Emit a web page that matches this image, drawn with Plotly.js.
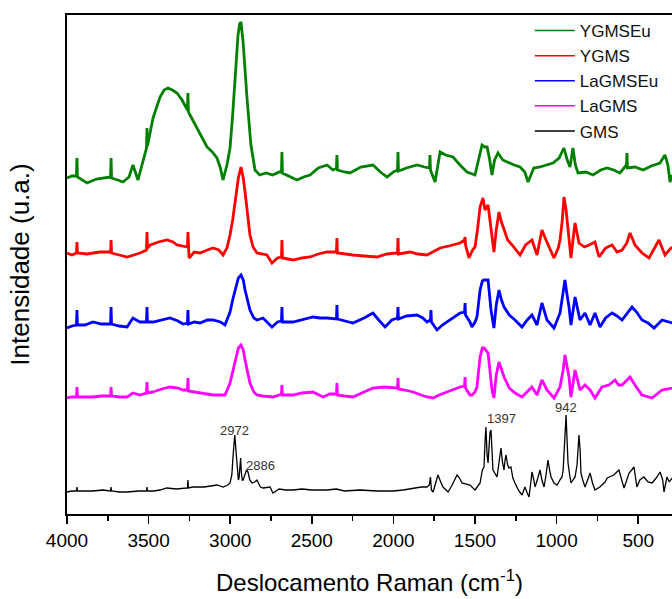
<!DOCTYPE html>
<html>
<head>
<meta charset="utf-8">
<script src="https://cdn.plot.ly/plotly-3.0.1.min.js"></script>
<style>html,body{margin:0;padding:0;background:#fff;}#chart{width:672px;height:599px;}</style>
</head>
<body>
<div id="chart"></div>
<script>
// Raman spectra (wavenumber in cm-1, intensity in arbitrary offset units)
const seriesNames = ["YGMSEu", "YGMS", "LaGMSEu", "LaGMS", "GMS"];
const seriesColors = ["#008000", "#ff0000", "#0000ff", "#ff00ff", "#000000"];

const wnYGMSEu = [4000,3970,3942,3939,3936,3877,3820,3780,3733,3730,3727,3690,3657,3620,3596,3565,3540,3513,3510,3507,3473,3430,3405,3381,3355,3326,3295,3262,3259,3256,3230,3203,3170,3142,3110,3081,3060,3044,3020,3001,2985,2970,2952,2942,2934,2921,2910,2897,2873,2848,2820,2780,2740,2700,2686,2683,2680,2640,2591,2550,2511,2460,2407,2370,2349,2346,2343,2300,2266,2200,2125,2080,2039,2000,1975,1972,1969,1920,1855,1810,1779,1776,1773,1745,1725,1714,1680,1635,1592,1549,1500,1475,1457,1440,1426,1410,1396,1380,1359,1330,1304,1260,1224,1195,1175,1140,1102,1060,1022,985,955,935,918,900,885,869,820,777,730,691,650,612,572,569,566,520,470,420,367,336,318,305,293];
const inYGMSEu = [336,338,338,356,337,331,335,336,337,356,336,334,332,337,349,334,349,366,386,368,396,417,424,426,424,421,414,404,421,402,394,386,376,367,362,356,346,334,349,366,399,432,479,490,492,472,444,416,369,344,339,341,339,342,342,362,341,338,334,337,339,346,349,344,346,359,344,342,341,347,349,342,337,342,344,362,343,346,349,347,346,359,344,332,354,362,359,357,349,342,339,356,369,367,367,354,339,354,361,354,352,349,347,342,332,346,347,349,351,356,366,354,347,366,349,341,342,339,344,346,344,341,349,361,346,347,344,348,351,359,349,332,339];

const wnYGMS = [4000,3970,3942,3939,3936,3877,3800,3756,3733,3730,3727,3680,3632,3590,3553,3513,3510,3507,3490,3440,3387,3350,3326,3290,3262,3259,3256,3252,3220,3185,3140,3105,3070,3044,3020,3001,2985,2970,2950,2934,2920,2909,2895,2879,2860,2836,2800,2775,2744,2710,2686,2683,2680,2615,2560,2511,2460,2407,2349,2346,2343,2300,2248,2180,2101,2040,1975,1972,1969,1898,1850,1794,1750,1714,1660,1635,1592,1564,1561,1558,1537,1515,1500,1485,1469,1451,1439,1420,1408,1396,1384,1370,1353,1338,1322,1300,1273,1250,1224,1190,1151,1120,1090,1065,1047,1016,990,979,965,955,942,930,912,900,887,863,830,801,765,740,700,660,630,599,570,550,520,477,434,400,373,336,310,293];
const inYGMS = [261,259,261,272,261,260,262,262,262,274,261,259,257,259,261,264,282,266,269,272,274,272,269,268,267,282,264,256,262,261,264,266,264,259,266,279,294,312,336,347,336,322,299,279,267,261,260,259,251,256,257,274,256,254,256,257,260,262,262,276,261,260,259,258,257,260,261,276,260,262,260,259,263,266,268,269,271,274,277,269,256,264,267,284,307,316,304,309,294,274,262,284,302,292,284,274,269,264,259,269,274,259,284,274,267,256,266,274,294,317,304,284,256,274,291,271,267,269,272,257,266,269,262,264,271,281,269,261,256,266,274,259,264,267];

const wnLaGMSEu = [4000,3970,3942,3939,3936,3890,3841,3790,3733,3730,3727,3680,3632,3596,3553,3513,3510,3507,3473,3420,3369,3320,3289,3262,3259,3256,3220,3185,3140,3105,3060,3032,3001,2985,2970,2950,2934,2920,2909,2890,2879,2855,2836,2799,2756,2744,2710,2686,2683,2680,2615,2560,2493,2450,2407,2349,2346,2343,2300,2248,2180,2125,2090,2051,2010,1975,1972,1969,1920,1855,1820,1794,1773,1770,1767,1733,1700,1672,1630,1592,1564,1561,1558,1531,1519,1500,1488,1469,1455,1445,1420,1410,1402,1384,1370,1353,1338,1322,1290,1255,1212,1180,1151,1120,1090,1059,1016,979,960,949,936,924,912,900,887,857,826,795,765,734,700,660,630,599,538,510,477,440,403,354,320,293];
const inLaGMSEu = [186,188,189,204,189,189,192,190,190,207,190,188,187,196,192,192,207,192,192,194,196,193,190,191,204,190,192,191,194,194,192,189,202,214,224,236,239,234,224,212,204,196,194,196,189,187,192,193,207,192,192,194,197,196,196,195,209,195,193,191,196,201,194,187,194,196,207,195,198,199,196,192,194,204,192,184,189,192,197,201,202,211,199,192,187,192,197,224,233,234,234,219,204,186,209,224,214,207,199,194,187,194,199,189,211,194,186,201,224,234,219,207,189,204,217,194,201,189,201,187,196,201,198,194,207,202,194,191,186,194,192,191];

const wnLaGMS = [4000,3970,3942,3939,3936,3890,3841,3790,3733,3730,3727,3680,3632,3596,3553,3513,3510,3507,3473,3420,3369,3320,3289,3262,3259,3256,3220,3185,3140,3105,3060,3032,3001,2985,2970,2950,2934,2920,2909,2890,2879,2855,2836,2800,2756,2738,2700,2686,2683,2680,2615,2560,2493,2431,2390,2349,2346,2343,2300,2248,2180,2125,2060,2002,1975,1972,1969,1930,1880,1830,1794,1757,1720,1672,1630,1592,1564,1561,1558,1531,1519,1500,1488,1469,1455,1445,1420,1408,1396,1384,1370,1353,1338,1322,1290,1255,1212,1180,1151,1120,1090,1059,1016,979,960,949,936,924,912,900,887,857,826,795,765,722,680,642,620,599,570,550,520,477,415,354,320,293];
const inLaGMS = [116,117,117,127,117,117,117,118,118,127,118,117,117,121,119,121,132,121,122,125,127,126,124,124,136,123,122,121,120,119,119,119,131,142,154,166,169,164,154,139,131,122,119,118,117,117,119,120,129,119,119,121,122,117,120,120,131,119,118,117,122,126,127,126,126,136,125,124,122,119,117,116,119,122,125,127,128,137,126,119,119,122,127,157,166,166,161,144,124,116,139,152,144,137,126,121,117,122,127,119,134,124,116,127,144,159,146,137,117,132,144,124,129,124,116,127,129,134,129,129,134,137,129,119,116,124,125,126];

const wnGMS = [4000,3970,3942,3939,3936,3880,3841,3780,3733,3730,3727,3680,3632,3560,3513,3510,3507,3470,3430,3389,3330,3262,3259,3256,3228,3160,3105,3080,3044,3015,3001,2990,2983,2977,2972,2965,2958,2950,2946,2940,2936,2932,2926,2921,2910,2900,2891,2880,2866,2850,2836,2815,2799,2770,2756,2738,2700,2660,2615,2560,2500,2407,2350,2300,2205,2100,2002,1940,1880,1830,1794,1780,1773,1767,1757,1745,1727,1710,1696,1665,1640,1610,1595,1580,1531,1500,1485,1469,1455,1445,1438,1433,1426,1420,1414,1408,1402,1396,1390,1365,1350,1341,1332,1322,1316,1310,1300,1292,1280,1268,1255,1235,1212,1194,1180,1169,1160,1151,1140,1132,1115,1102,1090,1077,1065,1053,1043,1034,1016,997,980,967,960,955,952,942,936,930,920,912,900,887,875,863,856,851,840,826,810,795,780,765,735,703,690,673,650,618,600,587,570,556,540,526,508,490,465,440,415,390,366,350,342,330,324,310,293];
const inGMS = [22,23,23,27,23,23,23,24,23,27,23,22,22,23,23,27,23,23,24,26,25,26,34,26,27,27,28,29,27,29,31,39,57,69,79,64,47,34,36,54,56,42,34,34,39,44,42,34,31,32,34,27,26,27,27,21,25,24,24,25,24,24,25,23,24,23,23,24,26,27,27,29,37,24,22,29,39,32,27,22,29,39,36,31,29,24,27,31,44,47,74,87,59,51,67,82,84,59,44,37,54,66,52,44,54,59,49,46,47,36,31,24,19,27,21,17,29,42,34,27,36,44,34,27,39,54,44,37,31,29,34,37,44,57,69,99,74,51,39,31,34,37,49,79,64,41,34,27,34,41,31,24,27,32,36,37,39,44,34,26,34,41,44,47,27,34,37,32,31,36,42,34,22,34,37,32,36];

// Peak labels on the GMS spectrum
const peakLabels = ["2972", "2886", "1397", "942"];
const peakX = [2972, 2886, 1397, 942];
const peakY = [84, 49, 96, 107];

const wnList = [wnYGMSEu, wnYGMS, wnLaGMSEu, wnLaGMS, wnGMS];
const inList = [inYGMSEu, inYGMS, inLaGMSEu, inLaGMS, inGMS];
const widths = [2.8, 2.8, 2.8, 2.8, 1.3];

const traces = seriesNames.map((n, i) => ({
  type: "scatter", mode: "lines", name: n, legendgroup: n,
  x: wnList[i], y: inList[i], showlegend: false,
  line: {color: seriesColors[i], width: widths[i]}
}));
// legend entries drawn with thin sample lines, as in the reference
const legendTraces = seriesNames.map((n, i) => ({
  type: "scatter", mode: "lines", name: n, legendgroup: n,
  x: [null], y: [null], showlegend: true,
  line: {color: seriesColors[i], width: 1.5}
}));

const xshifts = [0, 12, 10, 0];
const annotations = peakLabels.map((t, i) => ({
  x: peakX[i], y: peakY[i], xref: "x", yref: "y", text: t, showarrow: false,
  xshift: xshifts[i], font: {family: "Liberation Sans, Arial, sans-serif", size: 13, color: "#333"}
}));

const layout = {
  width: 672, height: 599,
  margin: {l: 67, r: 0, t: 15, b: 85},
  paper_bgcolor: "#fff", plot_bgcolor: "#fff",
  font: {family: "Liberation Sans, Arial, sans-serif", color: "#000"},
  showlegend: true,
  legend: {x: 0.765, xanchor: "left", y: 1.004, yanchor: "top", bgcolor: "rgba(0,0,0,0)",
           font: {size: 17, color: "#111"}, tracegroupgap: 0, itemwidth: 40},
  xaxis: {
    range: [4000, 293], showgrid: false, zeroline: false,
    showline: true, linecolor: "#000", linewidth: 2, mirror: true,
    ticks: "outside", ticklen: 8, tickwidth: 1.5, tickcolor: "#000",
    tick0: 0, dtick: 500, tickfont: {size: 19},
    minor: {ticks: "outside", ticklen: 5, tickwidth: 1.5, tickcolor: "#000", dtick: 250, tick0: 0, showgrid: false},
    title: {text: "Deslocamento Raman (cm<sup>-1</sup>)", font: {size: 24}, standoff: 24}
  },
  yaxis: {
    range: [0, 499], showgrid: false, zeroline: false,
    showline: true, linecolor: "#000", linewidth: 2, mirror: false,
    ticks: "", showticklabels: false,
    title: {text: "Intensidade (u.a.)", font: {size: 26}, standoff: 28}
  },
  annotations: annotations
};

Plotly.newPlot("chart", traces.concat(legendTraces), layout, {displayModeBar: false, staticPlot: true});
</script>
</body>
</html>
